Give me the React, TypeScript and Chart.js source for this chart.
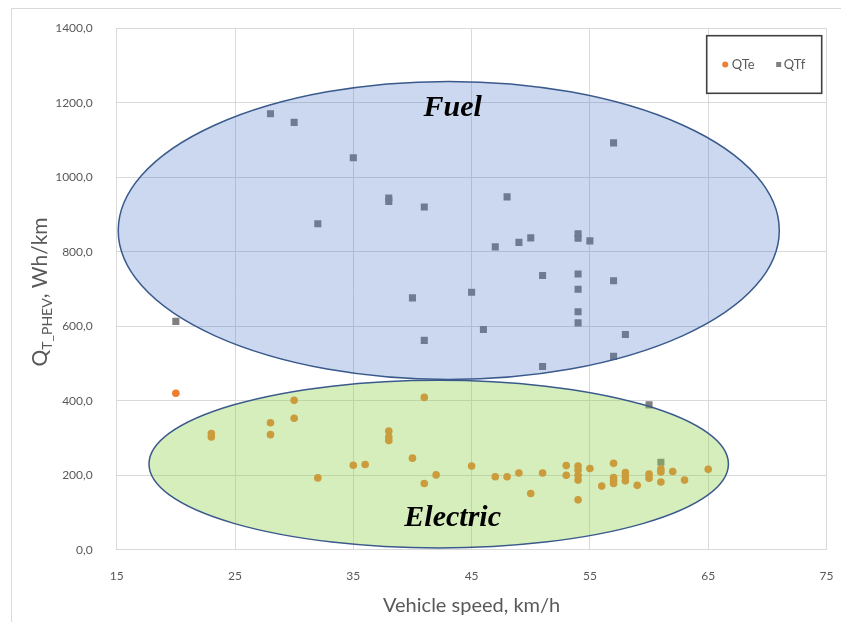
import React, { useEffect, useRef } from "react";
import { Chart, registerables } from "chart.js";

Chart.register(...registerables);

// QTe – electric energy consumption (x: vehicle speed km/h, y: Wh/km)
const elecX = [20,23,23,28,28,30,30,32,35,36,38,38,38,40,41,41,42,45,47,48,49,50,51,53,53,54,54,54,54,54,55,56,57,57,57,57,58,58,58,59,60,60,61,61,61,62,63,65];
const elecY = [420,312,303,341,309,401,353,193,227,229,319,303,293,246,409,178,201,225,196,196,206,151,206,226,200,225,214,200,187,134,218,171,232,194,186,178,207,196,185,173,203,192,217,209,182,210,187,216];

// QTf – fuel energy consumption
const fuelX = [20,28,30,32,35,38,38,40,41,41,45,46,47,48,49,50,51,51,54,54,54,54,54,54,55,57,57,57,58,60,61];
const fuelY = [613,1170,1147,875,1052,944,935,676,920,562,691,591,813,947,825,837,736,492,848,836,740,699,639,609,829,1092,722,519,578,389,235];

const seriesNames = ["QTe", "QTf"];
const xTitle = "Vehicle speed, km/h";
const yTitleMain = "Q";
const yTitleSub = "T_PHEV";
const yTitleRest = ", Wh/km";

// Region annotations (data units): centre x, centre y, radius x, radius y
const fuelRegion = { label: "Fuel", cx: 43.07, cy: 857, rx: 27.94, ry: 400, lx: 43.4, ly: 1184 };
const elecRegion = { label: "Electric", cx: 42.22, cy: 230, rx: 24.49, ry: 225, lx: 43.4, ly: 85 };

const GRAY_TEXT = "#595959";
const FONT = "Lato, 'Open Sans', sans-serif";

const overlayPlugin = {
  id: "overlay",
  afterDatasetsDraw(chart: any) {
    const { ctx, chartArea, scales } = chart;
    const xs = scales.x;
    const ys = scales.y;
    const drawRegion = (r: any, fill: string) => {
      const cx = xs.getPixelForValue(r.cx);
      const cy = ys.getPixelForValue(r.cy);
      const rx = Math.abs(xs.getPixelForValue(r.cx + r.rx) - cx);
      const ry = Math.abs(ys.getPixelForValue(r.cy + r.ry) - cy);
      ctx.save();
      ctx.beginPath();
      ctx.ellipse(cx, cy, rx, ry, 0, 0, Math.PI * 2);
      ctx.fillStyle = fill;
      ctx.fill();
      ctx.lineWidth = 1.5;
      ctx.strokeStyle = "#3A5A8C";
      ctx.stroke();
      ctx.restore();
    };
    drawRegion(fuelRegion, "rgba(68,114,196,0.28)");
    drawRegion(elecRegion, "rgba(146,208,80,0.38)");

    const drawLabel = (r: any) => {
      ctx.save();
      ctx.font = "italic bold 30px 'Liberation Serif', 'DejaVu Serif', serif";
      ctx.fillStyle = "#000";
      ctx.textAlign = "center";
      ctx.textBaseline = "middle";
      ctx.fillText(r.label, xs.getPixelForValue(r.lx), ys.getPixelForValue(r.ly));
      ctx.restore();
    };
    drawLabel(fuelRegion);
    drawLabel(elecRegion);

    // legend box
    const bw = 115, bh = 57.6;
    const bx = chartArea.right - 4.8 - bw;
    const by = chartArea.top + 7.6;
    ctx.save();
    ctx.fillStyle = "#ffffff";
    ctx.fillRect(bx, by, bw, bh);
    ctx.lineWidth = 1.6;
    ctx.strokeStyle = "#404040";
    ctx.strokeRect(bx, by, bw, bh);
    const my = by + bh / 2;
    ctx.fillStyle = "#ED7D31";
    ctx.beginPath();
    ctx.arc(bx + 18.5, my, 3, 0, Math.PI * 2);
    ctx.fill();
    ctx.fillStyle = "#7F7F7F";
    ctx.fillRect(bx + 69.5, my - 2.5, 5, 5);
    ctx.fillStyle = GRAY_TEXT;
    ctx.font = `13px ${FONT}`;
    ctx.textBaseline = "middle";
    ctx.textAlign = "left";
    ctx.fillText(seriesNames[0], bx + 25, my);
    ctx.fillText(seriesNames[1], bx + 77, my);
    ctx.restore();
  },
  afterDraw(chart: any) {
    const { ctx, chartArea } = chart;
    ctx.save();
    // outer chart frame
    ctx.strokeStyle = "#D9D9D9";
    ctx.lineWidth = 1;
    ctx.strokeRect(3.5, 0.5, chart.width + 20, chart.height + 20);
    // y axis title with subscript
    const bigFont = `21px ${FONT}`;
    const smallFont = `14px ${FONT}`;
    ctx.font = bigFont;
    const w1 = ctx.measureText(yTitleMain).width;
    const w3 = ctx.measureText(yTitleRest).width;
    ctx.font = smallFont;
    const w2 = ctx.measureText(yTitleSub).width;
    const total = w1 + w2 + w3;
    const cx = 32;
    const cy = (chartArea.top + chartArea.bottom) / 2 + 3;
    ctx.translate(cx, cy);
    ctx.rotate(-Math.PI / 2);
    ctx.fillStyle = GRAY_TEXT;
    ctx.textBaseline = "alphabetic";
    ctx.textAlign = "left";
    let x = -total / 2;
    ctx.font = bigFont;
    ctx.fillText(yTitleMain, x, 7);
    x += w1;
    ctx.font = smallFont;
    ctx.fillText(yTitleSub, x, 12);
    x += w2;
    ctx.font = bigFont;
    ctx.fillText(yTitleRest, x, 7);
    ctx.restore();
  },
};

export default function App() {
  const ref = useRef<HTMLCanvasElement>(null);
  useEffect(() => {
    if (!ref.current) return;
    const chart = new Chart(ref.current, {
      type: "scatter",
      data: {
        datasets: [
          {
            label: seriesNames[0],
            data: elecX.map((x, i) => ({ x, y: elecY[i] })),
            pointStyle: "circle",
            pointRadius: 3.8,
            backgroundColor: "#ED7D31",
            borderWidth: 0,
          },
          {
            label: seriesNames[1],
            data: fuelX.map((x, i) => ({ x, y: fuelY[i] })),
            pointStyle: "rect",
            pointRadius: 5,
            backgroundColor: "#7F7F7F",
            borderWidth: 0,
          },
        ],
      },
      options: {
        animation: false,
        responsive: false,
        layout: { padding: { top: 20.1, right: 14.5, left: 0, bottom: 0 } },
        plugins: { legend: { display: false }, tooltip: { enabled: false } },
        scales: {
          x: {
            type: "linear",
            min: 15,
            max: 75,
            afterFit: (s: any) => { s.height = 72.2; },
            ticks: { stepSize: 10, color: GRAY_TEXT, font: { family: FONT, size: 12 }, padding: 3 },
            grid: { color: "#D9D9D9", drawTicks: true, tickLength: 16, tickColor: "rgba(0,0,0,0)" },
            border: { color: "#D9D9D9" },
            title: { display: true, text: xTitle, color: GRAY_TEXT, font: { family: FONT, size: 20 }, padding: { top: 4 } },
          },
          y: {
            type: "linear",
            min: 0,
            max: 1400,
            afterFit: (s: any) => { s.width = 108.7; },
            ticks: {
              stepSize: 200,
              color: GRAY_TEXT,
              font: { family: FONT, size: 12 },
              padding: 3,
              callback: (v: any) => Number(v).toFixed(1).replace(".", ","),
            },
            grid: { color: "#D9D9D9", drawTicks: true, tickLength: 21, tickColor: "rgba(0,0,0,0)" },
            border: { color: "#D9D9D9" },
          },
        },
      },
      plugins: [overlayPlugin],
    } as any);
    return () => chart.destroy();
  }, []);
  return <canvas ref={ref} width={833} height={614} style={{ display: "block" }} />;
}
